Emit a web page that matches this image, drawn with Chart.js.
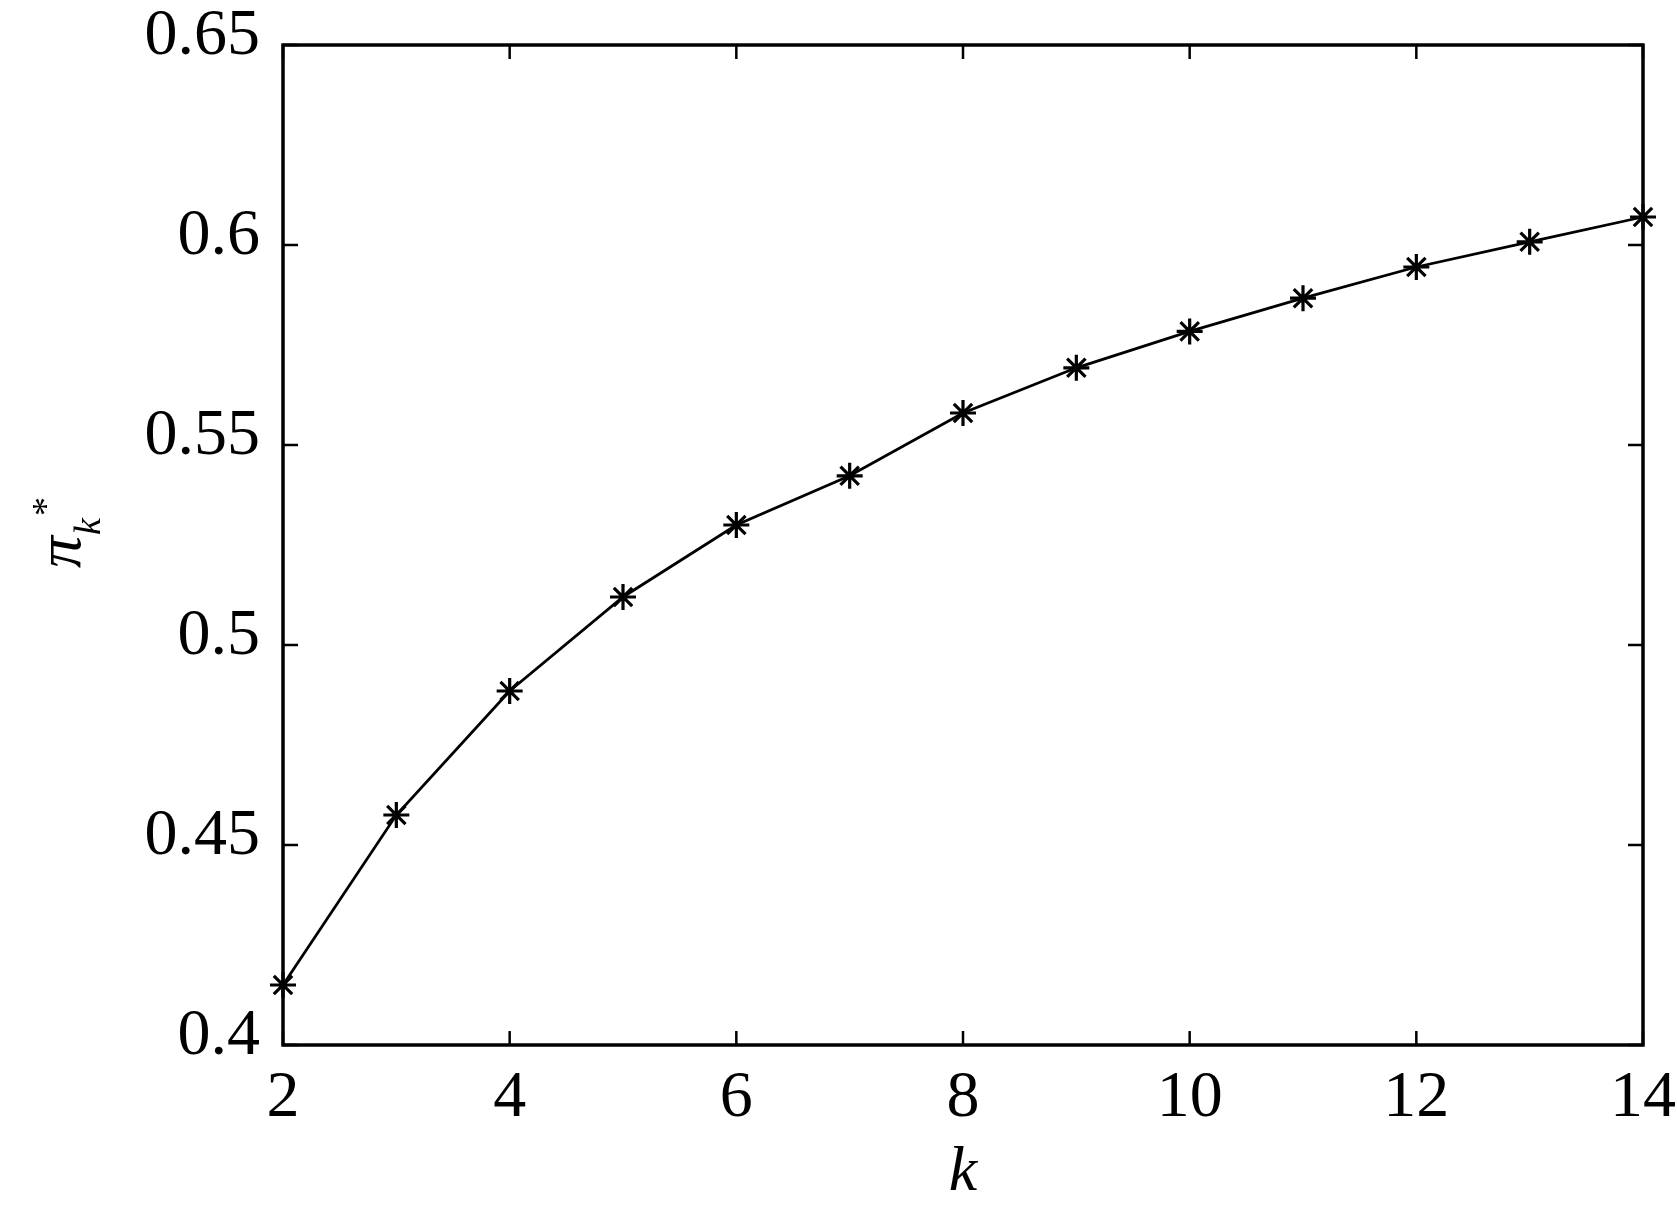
<!DOCTYPE html>
<html>
<head>
<meta charset="utf-8">
<script src="https://cdn.jsdelivr.net/npm/chart.js@4"></script>
<style>
html, body { margin: 0; padding: 0; background: #fff; }
canvas { display: block; }
</style>
</head>
<body>
<canvas id="c" width="1677" height="1219"></canvas>
<script>
// ---- data ----
const kValues = [2, 3, 4, 5, 6, 7, 8, 9, 10, 11, 12, 13, 14];
const piValues = [0.415, 0.4575, 0.4885, 0.512, 0.530, 0.5423, 0.558, 0.5693, 0.5784, 0.5867, 0.5945, 0.6008, 0.607];
const xTickValues = [2, 4, 6, 8, 10, 12, 14];
const xTickLabels = ['2', '4', '6', '8', '10', '12', '14'];
const yTickValues = [0.4, 0.45, 0.5, 0.55, 0.6, 0.65];
const yTickLabels = ['0.4', '0.45', '0.5', '0.55', '0.6', '0.65'];
const xTitle = 'k';

const SERIF = '"Liberation Serif", "DejaVu Serif", serif';

const whiteBg = {
  id: 'whiteBg',
  beforeDraw(chart) {
    const ctx = chart.ctx;
    ctx.save();
    ctx.fillStyle = '#fff';
    ctx.fillRect(0, 0, chart.width, chart.height);
    ctx.restore();
  }
};

const frameTicks = {
  id: 'frameTicks',
  afterDatasetsDraw(chart) {
    const {ctx, chartArea: a, scales: {x, y}} = chart;
    ctx.save();
    ctx.strokeStyle = '#000';
    ctx.lineWidth = 2.5;
    ctx.beginPath();
    x.ticks.forEach(t => {
      const px = x.getPixelForValue(t.value);
      ctx.moveTo(px, a.bottom); ctx.lineTo(px, a.bottom - 14);
      ctx.moveTo(px, a.top); ctx.lineTo(px, a.top + 14);
    });
    y.ticks.forEach(t => {
      const py = y.getPixelForValue(t.value);
      ctx.moveTo(a.left, py); ctx.lineTo(a.left + 15, py);
      ctx.moveTo(a.right, py); ctx.lineTo(a.right - 15, py);
    });
    ctx.stroke();
    ctx.lineWidth = 3.5;
    ctx.strokeRect(a.left, a.top, a.right - a.left, a.bottom - a.top);
    ctx.restore();
  }
};

const yTitle = {
  id: 'yTitle',
  afterDraw(chart) {
    const ctx = chart.ctx;
    ctx.save();
    ctx.translate(80, 568);
    ctx.rotate(-Math.PI / 2);
    ctx.fillStyle = '#000';
    ctx.textBaseline = 'alphabetic';
    ctx.textAlign = 'left';
    ctx.font = 'italic 64px ' + SERIF;
    ctx.fillText('π', 0, 0);
    ctx.font = 'italic 38px ' + SERIF;
    ctx.fillText('k', 33, 20);
    ctx.font = '38px ' + SERIF;
    ctx.fillText('*', 52, -22);
    ctx.restore();
  }
};

new Chart(document.getElementById('c'), {
  type: 'line',
  data: {
    datasets: [{
      data: kValues.map((k, i) => ({x: k, y: piValues[i]})),
      borderColor: '#000',
      backgroundColor: '#000',
      borderWidth: 2.8,
      tension: 0,
      pointStyle: 'star',
      pointRadius: 13,
      pointBorderWidth: 3.2,
      pointBorderColor: '#000',
      clip: false
    }]
  },
  options: {
    responsive: false,
    animation: false,
    devicePixelRatio: 1,
    layout: { padding: { left: 0, top: 45, right: 34, bottom: 0 } },
    plugins: { legend: { display: false }, tooltip: { enabled: false } },
    scales: {
      x: {
        type: 'linear',
        min: 2, max: 14,
        afterBuildTicks: s => { s.ticks = xTickValues.map(v => ({value: v})); },
        afterFit: s => { s.height = 174; s.paddingLeft = 0; s.paddingRight = 0; },
        grid: { display: false, drawTicks: false },
        border: { display: false },
        ticks: {
          color: '#000',
          padding: 14,
          maxRotation: 0,
          autoSkip: false,
          font: { family: SERIF, size: 66 },
          callback: (v, i) => xTickLabels[i]
        },
        title: {
          display: true,
          text: xTitle,
          color: '#000',
          font: { family: SERIF, size: 64, style: 'italic', lineHeight: 1 },
          padding: { top: 0, bottom: 14 }
        }
      },
      y: {
        type: 'linear',
        min: 0.4, max: 0.65,
        afterBuildTicks: s => { s.ticks = yTickValues.map(v => ({value: v})); },
        afterFit: s => { s.width = 283; s.paddingTop = 0; s.paddingBottom = 0; },
        grid: { display: false, drawTicks: false },
        border: { display: false },
        ticks: {
          color: '#000',
          padding: 23,
          labelOffset: -8,
          autoSkip: false,
          font: { family: SERIF, size: 66 },
          callback: (v, i) => yTickLabels[i]
        }
      }
    }
  },
  plugins: [whiteBg, frameTicks, yTitle]
});
</script>
</body>
</html>
